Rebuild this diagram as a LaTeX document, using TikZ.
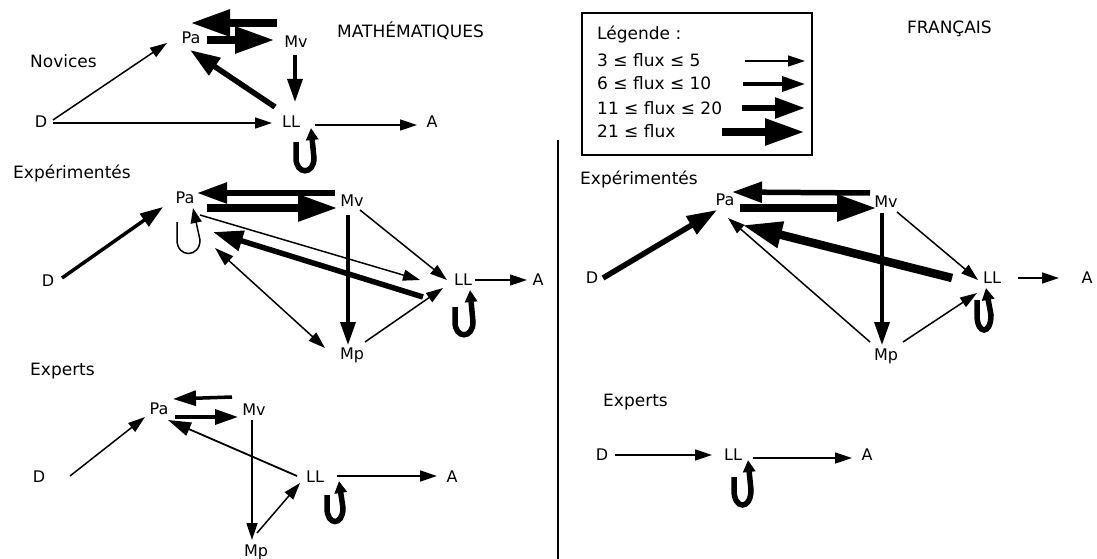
\documentclass[tikz,border=0pt]{standalone}
\usepackage{fontspec}
\setmainfont{DejaVu Sans}
\usetikzlibrary{arrows.meta,calc}
\begin{document}
\begin{tikzpicture}[x=1pt,y=-1pt,
  lab/.style={font=\fontsize{16}{19}\selectfont, inner sep=0pt, text height=11.5pt, text depth=0pt},
  grp/.style={font=\fontsize{17}{20}\selectfont, inner sep=0pt, anchor=west, text height=12pt, text depth=0pt},
  f1/.style={line width=1.5pt, -{Triangle[length=17pt,width=11pt]}},
  f2/.style={line width=3.5pt, -{Triangle[length=23pt,width=15pt]}},
  f3/.style={line width=5.5pt, -{Triangle[length=30pt,width=20pt]}},
  f4/.style={line width=8.5pt, -{Triangle[length=40pt,width=25pt]}},
  loopthin/.style={line width=1.5pt, -{Triangle[length=15pt,width=11pt]}},
  loopthick/.style={line width=5.5pt, -{Triangle[length=12pt,width=12pt]}},
]
\useasboundingbox (0,0) rectangle (1097,559);
\fill[white] (0,0) rectangle (1097,559);

% ---------- titles and group labels ----------
\node[grp] (tmath) at (337,32) {MATHÉMATIQUES};
\node[grp] (tfr) at (907,28) {FRANÇAIS};
\node[grp] (gnov) at (30,62) {Novices};
\node[grp] (gexpm) at (13,172) {Expérimentés};
\node[grp] (gexm) at (30,369) {Experts};
\node[grp] (gexpf) at (580,178) {Expérimentés};
\node[grp] (gexf) at (603,400) {Experts};

% ---------- divider ----------
\coordinate (divtop) at (558,140);
\coordinate (divbot) at (558,559);
\draw[line width=1.5pt] (divtop) -- (divbot);

% ---------- legend ----------
\draw[line width=1.8pt] (582,13) rectangle (812,155);
\node[grp] (leg0) at (597,34) {Légende :};
\node[grp] (leg1) at (597,61) {3 ≤ flux ≤ 5};
\node[grp] (leg2) at (597,84) {6 ≤ flux ≤ 10};
\node[grp] (leg3) at (597,108) {11 ≤ flux ≤ 20};
\node[grp] (leg4) at (597,132) {21 ≤ flux};
\coordinate (l1s) at (745,61); \coordinate (l1e) at (805,61);
\coordinate (l2s) at (743,84); \coordinate (l2e) at (805,84);
\coordinate (l3s) at (742,108); \coordinate (l3e) at (805,108);
\coordinate (l4s) at (722,132); \coordinate (l4e) at (805,132);
\draw[f1] (l1s) -- (l1e);
\draw[f2] (l2s) -- (l2e);
\draw[f3] (l3s) -- (l3e);
\draw[f4] (l4s) -- (l4e);

% ---------- Section 1: Novices, maths ----------
\node[lab] (Pa1) at (191,38) {Pa};
\node[lab] (Mv1) at (296,42) {Mv};
\node[lab] (D1) at (41,122) {D};
\node[lab] (LL1) at (291,122) {LL};
\node[lab] (A1) at (432,122) {A};
\draw[f4] ($(Mv1)+(-19,-19)$) -- ($(Pa1)+(-1,-15)$);
\draw[f4] ($(Pa1)+(16,2)$) -- ($(Mv1)+(-21,-2)$);
\draw[f2] ($(Mv1)+(-1,13)$) -- ($(LL1)+(4,-20)$);
\draw[f3] ($(LL1)+(-16,-15)$) -- ($(Pa1)+(-1,12)$);
\draw[f1] ($(D1)+(12,-2)$) -- ($(Pa1)+(-24,5)$);
\draw[f1] ($(D1)+(12,1)$) -- ($(LL1)+(-19,1)$);
\draw[f1] ($(LL1)+(24,3)$) -- ($(A1)+(-15,3)$);
\draw[loopthick, shift={(LL1)}] (5,20) -- (5,36) .. controls (5,53) and (23,53) .. (23,36) -- (20,6);

% ---------- Section 2: Expérimentés, maths ----------
\node[lab] (Pa2) at (185,198) {Pa};
\node[lab] (Mv2) at (352,201) {Mv};
\node[lab] (D2) at (48,281) {D};
\node[lab] (LL2) at (463,280) {LL};
\node[lab] (A2) at (538,280) {A};
\node[lab] (Mp2) at (352,354) {Mp};
\draw[f3] ($(Mv2)+(-17,-8)$) -- ($(Pa2)+(12,-5)$);
\draw[f4] ($(Pa2)+(22,10)$) -- ($(Mv2)+(-14,7)$);
\draw[f2] ($(D2)+(14,-3)$) -- ($(Pa2)+(-22,9)$);
\draw[f1] ($(Pa2)+(15,17)$) -- ($(LL2)+(-43,0)$);
\draw[f1] ($(Mv2)+(8,9)$) -- ($(LL2)+(-16,0)$);
\draw[f3] ($(LL2)+(-40,17)$) -- ($(Pa2)+(28,34)$);
\draw[f2] ($(Mv2)+(-4,14)$) -- ($(Mp2)+(-4,-9)$);
\draw[line width=1.5pt, {Triangle[length=19pt,width=12pt]}-{Triangle[length=17pt,width=11pt]}] ($(Pa2)+(30,50)$) -- ($(Mp2)+(-27,-6)$);
\draw[f1] ($(Mp2)+(13,-12)$) -- ($(LL2)+(-20,8)$);
\draw[loopthin, shift={(Pa2)}] (-8,24) -- (-8,42) .. controls (-8,60) and (15,60) .. (15,42) -- (8,10);
\draw[loopthick, shift={(LL2)}] (-8,27) -- (-8,42) .. controls (-8,59) and (10,59) .. (10,42) -- (7,10);
\draw[f1] ($(LL2)+(12,0)$) -- ($(A2)+(-11,0)$);

% ---------- Section 3: Experts, maths ----------
\node[lab] (Pa3) at (159,409) {Pa};
\node[lab] (Mv3) at (254,410) {Mv};
\node[lab] (D3) at (39,477) {D};
\node[lab] (LL3) at (315,477) {LL};
\node[lab] (A3) at (452,477) {A};
\node[lab] (Mp3) at (256,551) {Mp};
\draw[f2] ($(Mv3)+(-22,-13)$) -- ($(Pa3)+(14,-10)$);
\draw[f2] ($(Pa3)+(16,8)$) -- ($(Mv3)+(-16,7)$);
\draw[f1] ($(D3)+(31,-1)$) -- ($(Pa3)+(-14,8)$);
\draw[line width=1.8pt, -{Triangle[length=23pt,width=14pt]}] ($(LL3)+(-18,-1)$) -- ($(Pa3)+(9,11)$);
\draw[f1] ($(Mv3)+(-2,10)$) -- ($(Mp3)+(-4,-11)$);
\draw[f1] ($(Mp3)+(1,-18)$) -- ($(LL3)+(-15,6)$);
\draw[f1] ($(LL3)+(22,-1)$) -- ($(A3)+(-15,-1)$);
\draw[loopthick, shift={(LL3)}] (12,18) -- (12,31) .. controls (12,49) and (28,49) .. (28,31) -- (24,4);

% ---------- Section 4: Expérimentés, français ----------
\node[lab] (Pa4) at (725,200) {Pa};
\node[lab] (Mv4) at (886,202) {Mv};
\node[lab] (D4) at (592,278) {D};
\node[lab] (LL4) at (992,278) {LL};
\node[lab] (A4) at (1087,278) {A};
\node[lab] (Mp4) at (886,355) {Mp};
\draw[f3] ($(Mv4)+(-16,-9)$) -- ($(Pa4)+(7,-8)$);
\draw[f4] ($(Pa4)+(15,8)$) -- ($(Mv4)+(-9,6)$);
\draw[f3] ($(D4)+(11,0)$) -- ($(Pa4)+(-8,10)$);
\draw[f4] ($(LL4)+(-40,0)$) -- ($(Pa4)+(17,25)$);
\draw[f1] ($(Mv4)+(11,10)$) -- ($(LL4)+(-14,2)$);
\draw[f2] ($(Mv4)+(-4,11)$) -- ($(Mp4)+(-4,-10)$);
\draw[f1] ($(Mp4)+(-16,-13)$) -- ($(Pa4)+(3,18)$);
\draw[f1] ($(Mp4)+(17,-13)$) -- ($(LL4)+(-15,15)$);
\draw[f1] ($(LL4)+(26,0)$) -- ($(A4)+(-28,0)$);
\draw[loopthick, shift={(LL4)}] (-15,22) -- (-15,37) .. controls (-15,57) and (-1,57) .. (-1,37) -- (-6,10);

% ---------- Section 5: Experts, français ----------
\node[lab] (D5) at (602,455) {D};
\node[lab] (LL5) at (733,455) {LL};
\node[lab] (A5) at (867,455) {A};
\draw[f1] ($(D5)+(13,0)$) -- ($(LL5)+(-21,0)$);
\draw[f1] ($(LL5)+(20,3)$) -- ($(A5)+(-15,3)$);
\draw[loopthick, shift={(LL5)}] (1,22) -- (1,35) .. controls (1,55) and (18,55) .. (18,35) -- (15,5);
\end{tikzpicture}
\end{document}
